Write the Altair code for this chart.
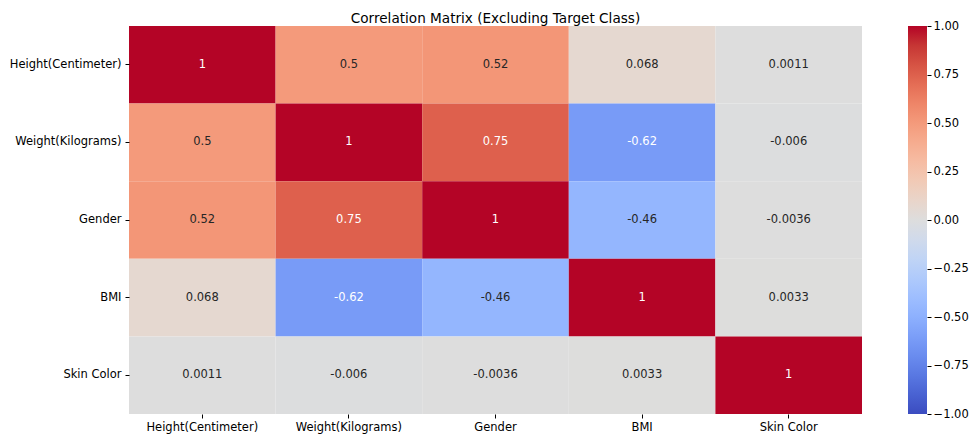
import altair as alt
import pandas as pd

# ---- data ----
features = ["Height(Centimeter)", "Weight(Kilograms)", "Gender", "BMI", "Skin Color"]
corr_rows = [
    [1.0, 0.5, 0.52, 0.068, 0.0011],
    [0.5, 1.0, 0.75, -0.62, -0.006],
    [0.52, 0.75, 1.0, -0.46, -0.0036],
    [0.068, -0.62, -0.46, 1.0, 0.0033],
    [0.0011, -0.006, -0.0036, 0.0033, 1.0],
]
colorbar_ticks = [-1.0, -0.75, -0.5, -0.25, 0.0, 0.25, 0.5, 0.75, 1.0]

# coolwarm colormap stops (Moreland), every other of 33 points
coolwarm = [
    "#3b4cc0", "#4d68d7", "#6282ea", "#779af7", "#8db0fe", "#a3c2ff",
    "#b8d0f9", "#ccd9ee", "#dddddd", "#ecd3c5", "#f5c4ad", "#f7b194",
    "#f49a7b", "#ec7f63", "#de604d", "#cb3e38", "#b40426",
]
cw_domain = [-1 + 2 * i / (len(coolwarm) - 1) for i in range(len(coolwarm))]

records = []
for i, r in enumerate(features):
    for j, c in enumerate(features):
        v = corr_rows[i][j]
        records.append({"row": r, "col": c, "value": v, "label": f"{v:.2g}"})
df = pd.DataFrame(records)
ticks_df = pd.DataFrame({"t": colorbar_ticks})

FONT = "DejaVu Sans"
W, H = 733, 388
GAP, CB_W = 46, 19

x_axis = alt.Axis(labelAngle=0, domain=False, grid=False, tickSize=4,
                  tickColor="black", tickWidth=1, labelPadding=3,
                  labelFontSize=11.5, labelFont=FONT, labelColor="black")
y_axis = alt.Axis(domain=False, grid=False, tickSize=4,
                  tickColor="black", tickWidth=1, labelPadding=4,
                  labelFontSize=11.5, labelFont=FONT, labelColor="black")
band = alt.Scale(paddingInner=0, paddingOuter=0)

base = alt.Chart(df)

heat = base.mark_rect(strokeWidth=0).encode(
    x=alt.X("col:N", sort=features, title=None, scale=band, axis=x_axis),
    y=alt.Y("row:N", sort=features, title=None, scale=band, axis=y_axis),
    color=alt.Color("value:Q",
                    scale=alt.Scale(domain=cw_domain, range=coolwarm, type="linear"),
                    legend=alt.Legend(orient="none", legendX=W + GAP, legendY=0,
                                      direction="vertical", gradientLength=H,
                                      gradientThickness=CB_W, labelOpacity=0,
                                      labelFontSize=0, labelLimit=1, title=None,
                                      gradientStrokeWidth=0)),
)

text = base.mark_text(fontSize=11.5, font=FONT).encode(
    x=alt.X("col:N", sort=features, title=None, scale=band, axis=x_axis),
    y=alt.Y("row:N", sort=features, title=None, scale=band, axis=y_axis),
    text="label:N",
    color=alt.condition("abs(datum.value) > 0.6", alt.value("white"), alt.value("#262626")),
)

# colorbar axis (ticks + labels next to the gradient)
cbar_axis = alt.Chart(ticks_df).mark_point(opacity=0).encode(
    y=alt.Y("t:Q", title=None,
            scale=alt.Scale(domain=[-1, 1], nice=False, zero=False),
            axis=alt.Axis(orient="right", offset=GAP + CB_W, values=colorbar_ticks,
                          format=".2f", domain=False, grid=False, tickSize=4,
                          tickColor="black", tickWidth=1, labelPadding=2,
                          labelFontSize=11.5, labelFont=FONT, labelColor="black")),
)

chart = alt.layer(alt.layer(heat, text), cbar_axis).resolve_scale(y="independent").properties(
    width=W, height=H,
    title=alt.Title("Correlation Matrix (Excluding Target Class)", fontSize=13.6,
                    font=FONT, fontWeight="normal", color="black", offset=2, dy=8),
    autosize=alt.AutoSizeParams(type="none"),
    padding={"left": 121, "top": 18, "right": 107, "bottom": 21},
).configure_view(stroke=None)

chart.save("out.html", embed_options={"renderer": "svg", "actions": False})
